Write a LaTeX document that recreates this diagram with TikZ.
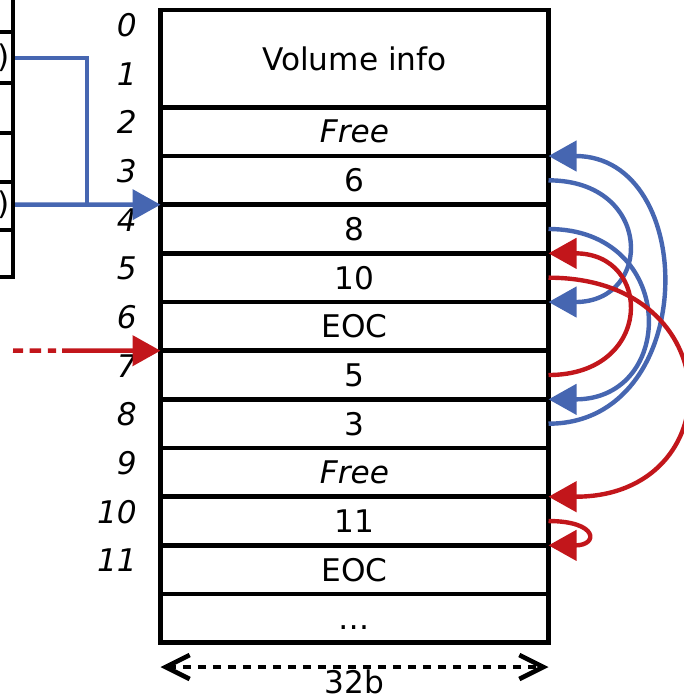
\documentclass[tikz,border=0pt]{standalone}
\usepackage{fontspec}
\setmainfont{DejaVu Sans}
\usepackage{tikz}
\usetikzlibrary{arrows.meta}
\definecolor{chainblue}{HTML}{4666B1}
\definecolor{chainred}{HTML}{C2161B}

\begin{document}
\begin{tikzpicture}[x=0.5pt, y=-0.5pt, line width=2.3pt,
    cell/.style={draw, line width=2.3pt, minimum width=194pt, minimum height=24.33pt, inner sep=0pt, outer sep=0pt, font=\fontsize{15.6}{18}\selectfont},
    idx/.style={anchor=east, inner sep=0pt, font=\fontsize{15.6}{18}\selectfont\itshape},
    ptr/.style={anchor=east, inner sep=0pt, font=\fontsize{15.6}{18}\selectfont},
    bluelink/.style={chainblue, line width=2.2pt},
    redlink/.style={chainred, line width=2.2pt},
    tip/.style={-{Triangle[length=14pt, width=15pt]}}]
    \useasboundingbox (0,0) rectangle (684,696);

    % FAT cells
    \node[cell, minimum height=48.67pt] (c0) at (354.5,58.67) {Volume info};
    \foreach \i/\txt in {2/\textit{Free}, 3/6, 4/8, 5/10, 6/EOC, 7/5, 8/3, 9/\textit{Free}, 10/11, 11/EOC, 12/\vphantom{0}\textellipsis} {
      \node[cell] (c\i) at (354.5, {34.33+48.67*\i}) {\txt};
    }
    \foreach \i in {0,...,11} {
      \node[idx] (n\i) at (139, {25+48.67*\i}) {\i};
    }

    % directory entries (cut off)
    \node[ptr] (p1) at (12,58) {)};
    \node[ptr] (p4) at (12,204.67) {)};
    \coordinate (jn) at (87,204.67);
    \draw[bluelink] (p1.east) -| (jn);
    \draw[bluelink, tip] (p4.east) -- (c4.north west);
    \draw (0,277) -- (13,277) -- (13,0);
    \foreach \y in {32, 83, 133, 182, 230} {
      \draw (0,\y) -- (13,\y);
    }

    % second chain enters at 7
    \coordinate (rs) at (13,350.67);
    \draw[redlink, tip, dash pattern=on 5pt off 3.3pt on 5.8pt off 3.3pt on 4.2pt off 3pt on 100pt] (rs) -- (c7.north west);

    % cluster chains
    \draw[bluelink, tip] (c4.east) .. controls +(129,0) and +(129,0) .. (c8.north east);
    \draw[bluelink, tip] (c8.east) .. controls +(151,0) and +(151,0) .. (c3.north east);
    \draw[bluelink, tip] (c3.east) .. controls +(105,0) and +(105,0) .. (c6.north east);
    \draw[redlink, tip] (c7.east) .. controls +(105,0) and +(105,0) .. (c5.north east);
    \draw[redlink, tip] (c5.east) .. controls +(183,0) and +(183,0) .. (c10.north east);
    \draw[redlink, tip] (c10.east) .. controls +(50,0) and +(50,0) .. (c11.north east);

    % cluster size
    \coordinate (wl) at (160.5,667);
    \coordinate (wr) at (548.5,667);
    \draw[{Straight Barb[length=12pt, width=12pt]}-{Straight Barb[length=12pt, width=12pt]}, dash pattern=on 4pt off 3.5pt] (wl) -- (wr);
    \node[anchor=base, inner sep=0pt, font=\fontsize{15.6}{18}\selectfont] (sz) at (354.5,693) {32b};
  \end{tikzpicture}
\end{document}
